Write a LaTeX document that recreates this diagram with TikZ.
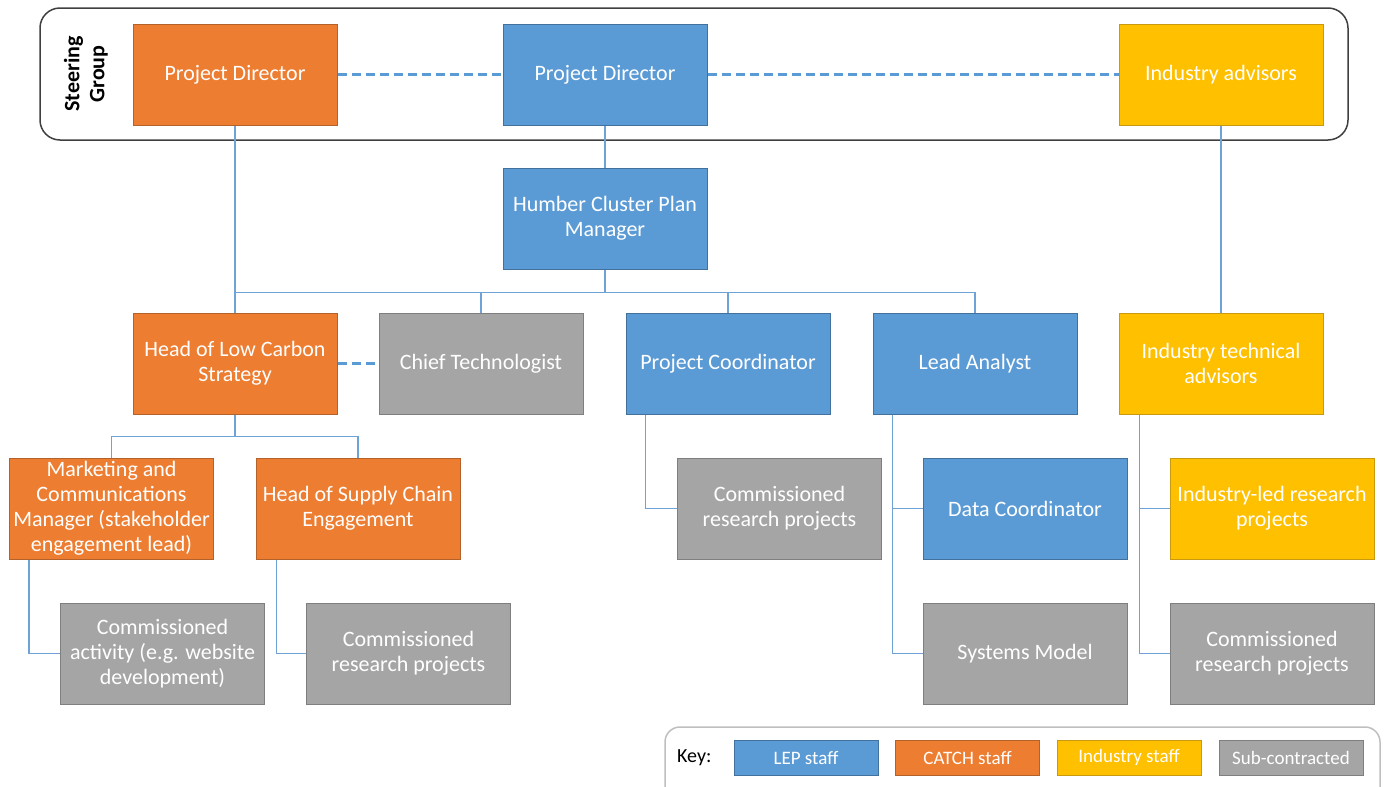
\documentclass[tikz,border=0pt]{standalone}
\usepackage{fontspec}
\setmainfont{Carlito}
\usetikzlibrary{calc}
\definecolor{cOr}{HTML}{ED7D31}\definecolor{cOrB}{HTML}{B5622A}
\definecolor{cBl}{HTML}{5B9BD5}\definecolor{cBlB}{HTML}{41719C}
\definecolor{cYe}{HTML}{FFC000}\definecolor{cYeB}{HTML}{C99A10}
\definecolor{cGr}{HTML}{A5A5A5}\definecolor{cGrB}{HTML}{7F7F7F}
\definecolor{cLine}{HTML}{6FA3D8}
\tikzset{
  box/.style={minimum width=204pt, minimum height=101pt, inner sep=0pt, line width=1pt, align=center, text=white, font=\fontsize{22}{25}\selectfont},
  orbox/.style={fill=cOr, draw=cOrB},
  blbox/.style={fill=cBl, draw=cBlB},
  yebox/.style={fill=cYe, draw=cYeB},
  grbox/.style={fill=cGr, draw=cGrB},
  conn/.style={draw=cLine, line width=1.5pt},
  thickconn/.style={draw=cLine, line width=2.5pt},
  dashconn/.style={draw=cBl, line width=3pt, dash pattern=on 9pt off 5pt},
  keybox/.style={minimum width=144pt, minimum height=35pt, inner sep=0pt, line width=1pt, text=white, font=\fontsize{19}{21}\selectfont}
}
\begin{document}
\begin{tikzpicture}[x=1pt,y=-1pt]
\useasboundingbox (0,0) rectangle (1385,787);
\clip (0,0) rectangle (1385,787);
\fill[white] (0,0) rectangle (1385,787);
% steering group frame
\draw[draw=black!75, line width=1.5pt, rounded corners=20pt] (40,8) rectangle (1348,140);
\node[rotate=90, align=center, font=\bfseries\fontsize{22}{25}\selectfont] (sg) at (86,74) {Steering\\Group};
% row 1
\node[box,orbox] (pdO) at (235,74.5) {Project Director};
\node[box,blbox] (pdB) at (605,74.5) {Project Director};
\node[box,yebox] (indA) at (1221,74.5) {Industry advisors};
% manager
\node[box,blbox] (hcpm) at (605,218.5) {Humber Cluster Plan\\Manager};
% row 2
\node[box,orbox] (hlcs) at (235,363.5) {Head of Low Carbon\\Strategy};
\node[box,grbox] (ct) at (481,363.5) {Chief Technologist};
\node[box,blbox] (pc) at (728,363.5) {Project Coordinator};
\node[box,blbox] (la) at (975,363.5) {Lead Analyst};
\node[box,yebox] (ita) at (1221,363.5) {Industry technical\\advisors};
% row 3
\node[box,orbox] (mkt) at (111.5,508.5) {Marketing and\\Communications\\Manager (stakeholder\\engagement lead)};
\node[box,orbox] (hsc) at (358,508.5) {Head of Supply Chain\\Engagement};
\node[box,grbox] (crp1) at (779.5,508.5) {Commissioned\\research projects};
\node[box,blbox] (dc) at (1025,508.5) {Data Coordinator};
\node[box,yebox] (ilr) at (1272,508.5) {Industry-led research\\projects};
% row 4
\node[box,grbox] (ca) at (162.5,653.5) {Commissioned\\activity (e.g. website\\development)};
\node[box,grbox] (crp2) at (408.5,653.5) {Commissioned\\research projects};
\node[box,grbox] (sm) at (1025,653.5) {Systems Model};
\node[box,grbox] (crp3) at (1272,653.5) {Commissioned\\research projects};
% dashed links
\draw[dashconn] (pdO.east) -- (pdB.west);
\draw[dashconn] (pdB.east) -- (indA.west);
\draw[dashconn] (hlcs.east) -- (ct.west);
% solid connectors
\draw[thickconn] (pdO.south) -- (hlcs.north);
\draw[conn] (pdB.south) -- (hcpm.north);
\draw[conn] (indA.south) -- (ita.north);
\coordinate (b1) at ($(hcpm.south)+(0,23)$);
\draw[conn] (hcpm.south) -- (b1);
\draw[conn] (b1) -| (hlcs.north);
\draw[conn] (b1) -| (ct.north);
\draw[conn] (b1) -| (pc.north);
\draw[conn] (b1) -| (la.north);
\coordinate (b2) at ($(hlcs.south)+(0,22)$);
\draw[conn] (hlcs.south) -- (b2);
\draw[conn] (b2) -| (mkt.north);
\draw[conn] (b2) -| (hsc.north);
\coordinate (m1) at ($(mkt.south west)+(20,0)$);
\draw[conn] (m1) |- (ca.west);
\coordinate (h1) at ($(hsc.south west)+(21,0)$);
\draw[conn] (h1) |- (crp2.west);
\coordinate (p1) at ($(pc.south west)+(20,0)$);
\draw[conn] (p1) |- (crp1.west);
\coordinate (l1) at ($(la.south west)+(20,0)$);
\draw[conn] (l1) |- (sm.west);
\draw[conn] (l1 |- dc.west) -- (dc.west);
\coordinate (i1) at ($(ita.south west)+(21,0)$);
\draw[conn] (i1) |- (crp3.west);
\draw[conn] (i1 |- ilr.west) -- (ilr.west);
% key
\draw[draw=black!25, line width=1.5pt, rounded corners=15pt] (665,727) rectangle (1380,805);
\node[font=\fontsize{20}{22}\selectfont, anchor=west, inner sep=0pt] (key) at (677,757.5) {Key:};
\node[keybox,blbox] (kLEP) at (806,757.5) {LEP staff};
\node[keybox,orbox] (kCATCH) at (967.5,757.5) {CATCH staff};
\node[keybox,yebox] (kInd) at (1129,757.5) {Industry staff};
\node[keybox,grbox] (kSub) at (1291,757.5) {Sub-contracted};
\end{tikzpicture}
\end{document}
